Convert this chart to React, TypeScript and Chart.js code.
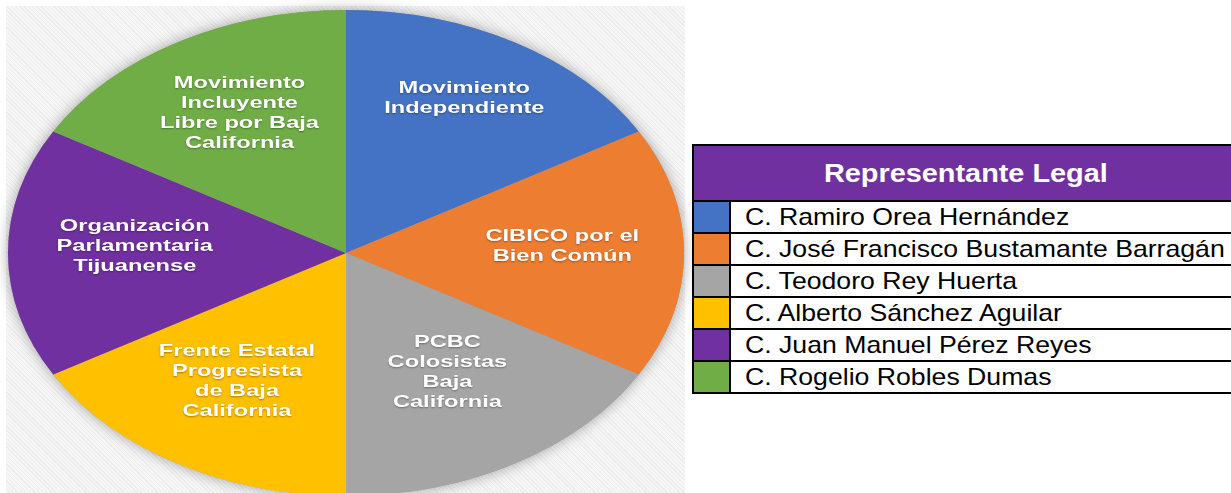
import React, { useEffect, useRef } from "react";
import { Chart, registerables } from "chart.js";

Chart.register(...registerables);

const partyLabels: string[][] = [
  ["Movimiento", "Independiente"],
  ["CIBICO por el", "Bien Común"],
  ["PCBC", "Colosistas", "Baja", "California"],
  ["Frente Estatal", "Progresista", "de Baja", "California"],
  ["Organización", "Parlamentaria", "Tijuanense"],
  ["Movimiento", "Incluyente", "Libre por Baja", "California"],
];
const shares = [1, 1, 1, 1, 1, 1];
const sliceColors = ["#4472C4", "#ED7D31", "#A5A5A5", "#FFC000", "#7030A0", "#70AD47"];
const tableTitle = "Representante Legal";
const representatives = [
  "C. Ramiro Orea Hernández",
  "C. José Francisco Bustamante Barragán",
  "C. Teodoro Rey Huerta",
  "C. Alberto Sánchez Aguilar",
  "C. Juan Manuel Pérez Reyes",
  "C. Rogelio Robles Dumas",
];

const STRETCH_X = 1.391;
const LABEL_RADII = [0.7, 0.64, 0.6, 0.645, 0.625, 0.63];
const LABEL_SHIFT_Y = -7;
const FONT = "'Liberation Sans', Arial, Helvetica, sans-serif";

const ellipsePlugin = {
  id: "ellipsePie",
  beforeDatasetsDraw(chart: any) {
    const ctx = chart.ctx;
    const meta = chart.getDatasetMeta(0);
    const arc: any = meta.data[0];
    if (!arc) return;
    const { x, y, outerRadius } = arc.getProps(["x", "y", "outerRadius"], true);
    ctx.save();
    ctx.translate(x, 0);
    ctx.scale(STRETCH_X, 1);
    ctx.translate(-x, 0);
    ctx.save();
    ctx.shadowColor = "rgba(0,0,0,0.35)";
    ctx.shadowBlur = 14;
    ctx.fillStyle = "#999";
    ctx.beginPath();
    ctx.arc(x, y, outerRadius, 0, Math.PI * 2);
    ctx.fill();
    ctx.restore();
  },
  afterDatasetsDraw(chart: any) {
    const ctx = chart.ctx;
    const meta = chart.getDatasetMeta(0);
    if (!meta.data[0]) return;
    ctx.font = `bold 17px ${FONT}`;
    ctx.textAlign = "center";
    ctx.textBaseline = "middle";
    ctx.fillStyle = "#ffffff";
    ctx.shadowColor = "rgba(0,0,0,0.35)";
    ctx.shadowBlur = 2;
    ctx.shadowOffsetY = 1;
    meta.data.forEach((el: any, i: number) => {
      const p = el.getProps(["x", "y", "startAngle", "endAngle", "outerRadius"], true);
      const mid = (p.startAngle + p.endAngle) / 2;
      const f = LABEL_RADII[i] ?? 0.65;
      const lx = p.x + Math.cos(mid) * p.outerRadius * f;
      const ly = p.y + Math.sin(mid) * p.outerRadius * f + LABEL_SHIFT_Y;
      const lines = partyLabels[i];
      const lh = 20;
      const top = ly - ((lines.length - 1) * lh) / 2;
      lines.forEach((t, j) => ctx.fillText(t, lx, top + j * lh));
    });
    ctx.restore();
  },
};

export default function App() {
  const ref = useRef<HTMLCanvasElement | null>(null);
  useEffect(() => {
    if (!ref.current) return;
    const chart = new Chart(ref.current, {
      type: "pie",
      data: {
        labels: partyLabels.map((l) => l.join(" ")),
        datasets: [
          {
            data: shares,
            backgroundColor: sliceColors,
            borderWidth: 0,
          },
        ],
      },
      options: {
        animation: false,
        responsive: true,
        maintainAspectRatio: false,
        events: [],
        layout: { padding: 10 },
        plugins: { legend: { display: false }, tooltip: { enabled: false } },
      },
      plugins: [ellipsePlugin],
    });
    return () => chart.destroy();
  }, []);

  return (
    <div
      style={{
        position: "fixed",
        left: 0,
        top: 0,
        width: 1231,
        height: 493,
        overflow: "hidden",
        background: "#fff",
        fontFamily: FONT,
      }}
    >
      <div
        style={{
          position: "absolute",
          left: 6,
          top: 6,
          width: 679,
          height: 495,
          background:
            "repeating-linear-gradient(45deg, #f6f6f6 0px, #f6f6f6 2px, #ececec 2px, #ececec 3px)",
        }}
      />
      <div style={{ position: "absolute", left: 0, top: 0, width: 692, height: 506 }}>
        <canvas ref={ref} />
      </div>
      <div
        style={{
          position: "absolute",
          left: 692,
          top: 144,
          width: 544,
          border: "2px solid #000",
          background: "#fff",
        }}
      >
        <div
          style={{
            height: 54,
            background: "#7030A0",
            borderBottom: "2px solid #000",
            display: "flex",
            alignItems: "center",
            justifyContent: "center",
            color: "#fff",
            fontWeight: "bold",
            fontSize: 26,
          }}
        >
          <span style={{ display: "inline-block", transform: "scaleX(1.11)" }}>{tableTitle}</span>
        </div>
        {representatives.map((name, i) => (
          <div
            key={name}
            style={{
              height: 30,
              display: "flex",
              borderBottom: i < representatives.length - 1 ? "2px solid #000" : "none",
            }}
          >
            <div
              style={{
                width: 35,
                height: 30,
                background: sliceColors[i],
                borderRight: "2px solid #000",
                flex: "none",
              }}
            />
            <div
              style={{
                paddingLeft: 14,
                fontSize: 24,
                lineHeight: "30px",
                color: "#000",
                whiteSpace: "nowrap",
              }}
            >
              <span
                style={{ display: "inline-block", transform: "scaleX(1.11)", transformOrigin: "left center" }}
              >
                {name}
              </span>
            </div>
          </div>
        ))}
      </div>
    </div>
  );
}
